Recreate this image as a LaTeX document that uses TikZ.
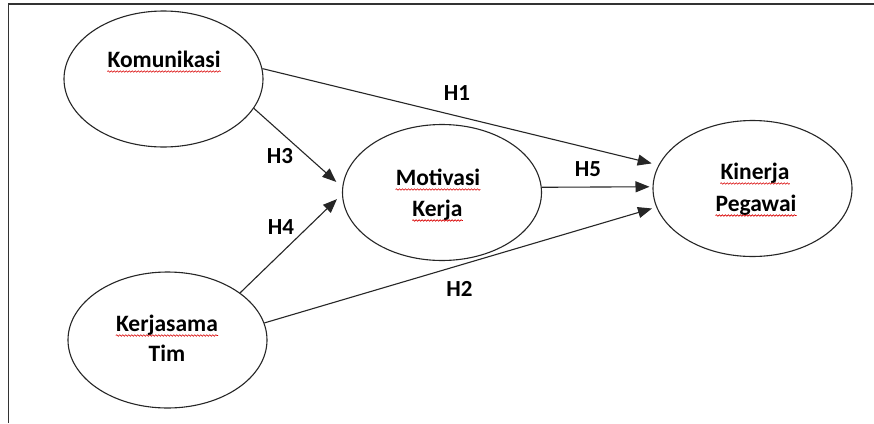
\documentclass[tikz,border=0pt]{standalone}
\usepackage{fontspec}
\setmainfont{Carlito}
\usetikzlibrary{shapes.geometric,arrows.meta,decorations.pathmorphing}
\begin{document}
\begin{tikzpicture}[x=1pt,y=-1pt,
 var/.style={ellipse,draw=black!85,line width=1.1pt,minimum width=199pt,minimum height=136pt,inner sep=0pt},
 txt/.style={anchor=base,inner sep=0pt,font=\fontsize{23.5}{28}\selectfont\bfseries},
 lab/.style={anchor=base,inner sep=0pt,font=\fontsize{23}{28}\selectfont\bfseries},
 link/.style={draw=black!85,line width=1.1pt,-{Triangle[length=14pt,width=11pt]}},
 squig/.style={draw=red!85!black,line width=0.6pt,decorate,decoration={snake,amplitude=0.8pt,segment length=3pt}}]
\useasboundingbox (0,0) rectangle (874,423);
\fill[white] (0,0) rectangle (874,423);
\draw[line width=1.5pt,black!80] (8.5,423) -- (8.5,4) -- (874,4);

% ellipses
\node[var] (kom) at (163.5,79) {};
\node[var] (ker) at (167.5,340) {};
\node[var] (mot) at (442,192.5) {};
\node[var] (kin) at (752.5,188.5) {};

% texts
\node[txt] (komT) at (164,67) {Komunikasi};
\node[txt] (kerT1) at (167,331) {Kerjasama};
\node[txt] (kerT2) at (167,361.5) {Tim};
\node[txt] (motT1) at (438,185) {Motivasi};
\node[txt] (motT2) at (437.5,216) {Kerja};
\node[txt] (kinT1) at (755,179) {Kinerja};
\node[txt] (kinT2) at (756,211) {Pegawai};

% spell-check squiggles
\foreach \n in {komT,kerT1,motT1,motT2,kinT1,kinT2}{
  \draw[squig] ([yshift=-4.5pt]\n.base west) -- ([yshift=-4.5pt]\n.base east);
}

% connectors
\draw[link,shorten >=7pt] (kom.6) -- (kin.166);
\draw[link,shorten >=8pt] (kom.-18) -- (mot.177);
\draw[link,shorten >=7pt] (ker.33.5) -- (mot.181);
\draw[link,shorten >=4.5pt] (ker.10) -- (kin.191.8);
\draw[link,shorten >=3pt] (mot.3.5) -- (kin.179);

% labels
\node[lab] (h1) at (457,100) {H1};
\node[lab] (h5) at (588,176.5) {H5};
\node[lab] (h3) at (280,163) {H3};
\node[lab] (h4) at (281,234) {H4};
\node[lab] (h2) at (459.5,296.5) {H2};
\end{tikzpicture}
\end{document}
